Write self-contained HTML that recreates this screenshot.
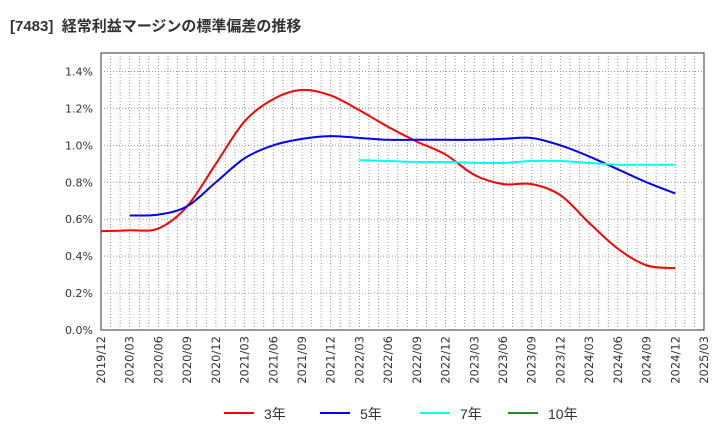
<!DOCTYPE html>
<html><head><meta charset="utf-8"><style>
body{margin:0;background:#fff;}
svg{display:block;font-family:"Liberation Sans","Noto Sans CJK JP",sans-serif;}
</style></head><body>
<svg width="720" height="440">
<text x="10" y="31" font-size="15" font-weight="bold" fill="#333" xml:space="preserve">[7483]  経常利益マージンの標準偏差の推移</text>
<rect x="101" y="53" width="603" height="277" fill="#fff" stroke="#333"/>
<g id="grid"></g><g id="yax"></g><g id="xax"></g><g id="lines"></g>
<g id="legend"></g>
</svg>
<script>
const xLabels=["2019/12","2020/03","2020/06","2020/09","2020/12","2021/03","2021/06","2021/09","2021/12","2022/03","2022/06","2022/09","2022/12","2023/03","2023/06","2023/09","2023/12","2024/03","2024/06","2024/09","2024/12","2025/03"];
const yTicks=[0,0.2,0.4,0.6,0.8,1.0,1.2,1.4];
const s3=[0.535,0.54,0.55,0.67,0.9,1.13,1.25,1.30,1.27,1.19,1.10,1.02,0.95,0.84,0.79,0.79,0.73,0.58,0.44,0.35,0.335];
const s5=[null,0.62,0.625,0.67,0.80,0.93,1.00,1.035,1.05,1.04,1.03,1.03,1.03,1.03,1.035,1.04,1.00,0.94,0.87,0.80,0.74];
const s7=[null,null,null,null,null,null,null,null,null,0.92,0.915,0.91,0.91,0.905,0.905,0.915,0.915,0.905,0.895,0.895,0.895];
const s10=[];
const NS="http://www.w3.org/2000/svg";
const L=101,R=704,T=53,B=330,YMAX=1.5;
const xs=i=>L+(R-L)*i/(xLabels.length-1);
const ys=v=>B-(B-T)*v/YMAX;
function mk(t,a,p){const e=document.createElementNS(NS,t);for(const k in a)e.setAttribute(k,a[k]);p.appendChild(e);return e;}
const grid=document.getElementById('grid');
for(let m=1;m<(xLabels.length-1)*3;m++){const x=L+(R-L)*m/((xLabels.length-1)*3);
const g=mk('line',{x1:x,x2:x,y1:T,y2:B,stroke:'#999','stroke-dasharray':'1,2'},grid);
}
const yax=document.getElementById('yax');
yTicks.forEach(v=>{const y=ys(v);
if(v>0){const g=mk('line',{x1:L,x2:R,y1:y,y2:y,stroke:'#999','stroke-dasharray':'1,2'},grid);
}
const t=mk('text',{x:L-8,y:y+4,'text-anchor':'end','font-size':11,fill:'#333','font-family':'DejaVu Sans, sans-serif'},yax);

t.textContent=v.toFixed(1)+'%';});
const xax=document.getElementById('xax');
xLabels.forEach((l,i)=>{const x=xs(i)+4;
const t=mk('text',{x:x,y:336,'text-anchor':'end','font-size':11.5,fill:'#333','font-family':'DejaVu Sans, sans-serif',transform:`rotate(-90 ${x} 336)`},xax);

t.textContent=l;});
function path(arr){const p=[];arr.forEach((v,i)=>{if(v!=null)p.push([xs(i),ys(v)]);});
if(p.length<2)return '';let d=`M${p[0][0]},${p[0][1]}`;
for(let i=0;i<p.length-1;i++){const p0=p[i-1]||p[i],p1=p[i],p2=p[i+1],p3=p[i+2]||p2;
d+=` C${p1[0]+(p2[0]-p0[0])/6},${p1[1]+(p2[1]-p0[1])/6} ${p2[0]-(p3[0]-p1[0])/6},${p2[1]-(p3[1]-p1[1])/6} ${p2[0]},${p2[1]}`;}
return d;}
const lines=document.getElementById('lines');
const series=[[s3,'#f00','3年','series-3y'],[s5,'#00f','5年','series-5y'],[s7,'#0ff','7年','series-7y'],[s10,'#228b22','10年','series-10y']];
series.forEach(([a,c,n,id])=>{const d=path(a);if(d){const e=mk('path',{d:d,fill:'none',stroke:c,'stroke-width':2},lines);
}});
const lg=document.getElementById('legend');
const lx=[224,320,420,508];
series.forEach(([a,c,n,id],i)=>{
const l=mk('line',{x1:lx[i],x2:lx[i]+30,y1:413,y2:413,stroke:c,'stroke-width':2},lg);

const t=mk('text',{x:lx[i]+40,y:419,'font-size':14,fill:'#333'},lg);

t.textContent=n;});
</script>
</body></html>
